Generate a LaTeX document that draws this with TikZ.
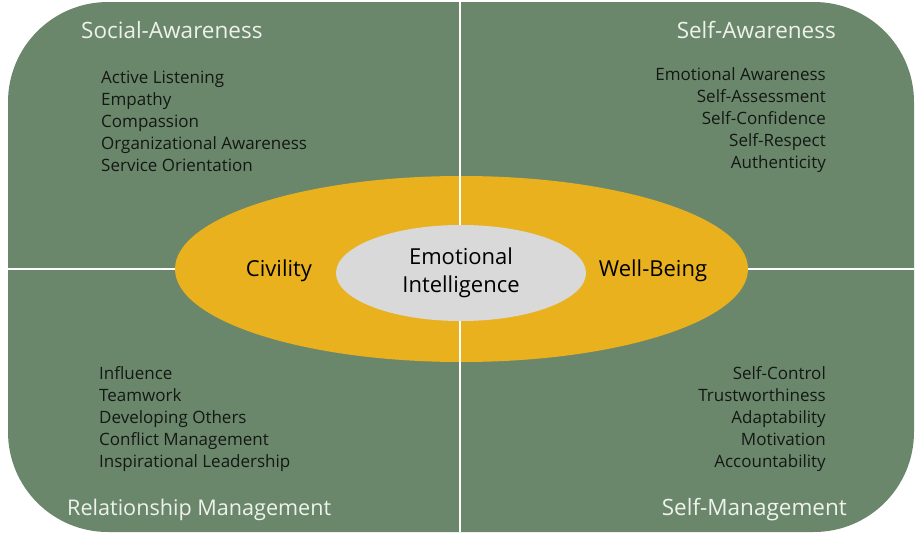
\documentclass[tikz,border=0pt]{standalone}
\usepackage{fontspec}
\setmainfont{Open Sans}
\usetikzlibrary{shapes.geometric}

\definecolor{eigreen}{RGB}{107,135,107}
\definecolor{eiyellow}{RGB}{233,177,30}
\definecolor{eigrey}{RGB}{217,217,217}
\definecolor{eilight}{RGB}{238,242,234}
\definecolor{eidark}{RGB}{20,24,20}

\tikzset{
	quadhead/.style={text=eilight, font=\fontsize{22.5}{26}\selectfont, inner sep=0pt},
	itemlist/.style={text=eidark, font=\fontsize{17}{22}\selectfont, inner sep=0pt},
	corelabel/.style={text=black, font=\fontsize{22}{28}\selectfont, inner sep=0pt},
	divider/.style={white, line width=2pt},
	ring/.style={ellipse, inner sep=0pt},
}

\begin{document}
\begin{tikzpicture}[x=1pt,y=-1pt]
			\useasboundingbox (0,0) rectangle (922,533);
			%Background
			\fill[eigreen, rounded corners=100pt] (8,2) rectangle (914,532);
			
			\coordinate (west) at (8,269);
			\coordinate (east) at (914,269);
			\coordinate (north) at (460,1);
			\coordinate (south) at (460,532);
			\draw[divider] (west) -- (east);
			
			%Outer ring
			\node[ring, fill=eiyellow, minimum width=573pt, minimum height=186pt] (outer) at (461.5,269) {};
			\draw[divider] (north) -- (south);
			
			%Inner ring
			\node[ring, fill=eigrey, minimum width=250pt, minimum height=96pt] (core) at (461,273) {};
			\node[corelabel, align=center] (coretext) at (461,272.5) {Emotional\\Intelligence};
			\node[corelabel] (civ) at (279,271) {Civility};
			\node[corelabel] (wb) at (653,271) {Well-Being};
			
			%Quadrant titles
			\node[quadhead, anchor=west] (SA) at (81,30) {Social-Awareness};
			\node[quadhead, anchor=east] (SeA) at (836,30) {Self-Awareness};
			\node[quadhead, anchor=west, font=\fontsize{21.6}{26}\selectfont] (RM) at (67,510) {Relationship Management};
			\node[quadhead, anchor=east] (SM) at (847,510) {Self-Management};
			
			%Quadrant items
			\node[itemlist, anchor=west, align=left] (SAlist) at (101,121) {Active Listening\\Empathy\\Compassion\\Organizational Awareness\\Service Orientation};
			\node[itemlist, anchor=east, align=right] (SeAlist) at (826,120) {Emotional Awareness\\Self-Assessment\\Self-Confidence\\Self-Respect\\Authenticity};
			\node[itemlist, anchor=west, align=left] (RMlist) at (99,419) {Influence\\Teamwork\\Developing Others\\Conflict Management\\Inspirational Leadership};
			\node[itemlist, anchor=east, align=right] (SMlist) at (826,419) {Self-Control\\Trustworthiness\\Adaptability\\Motivation\\Accountability};
\end{tikzpicture}
\end{document}
